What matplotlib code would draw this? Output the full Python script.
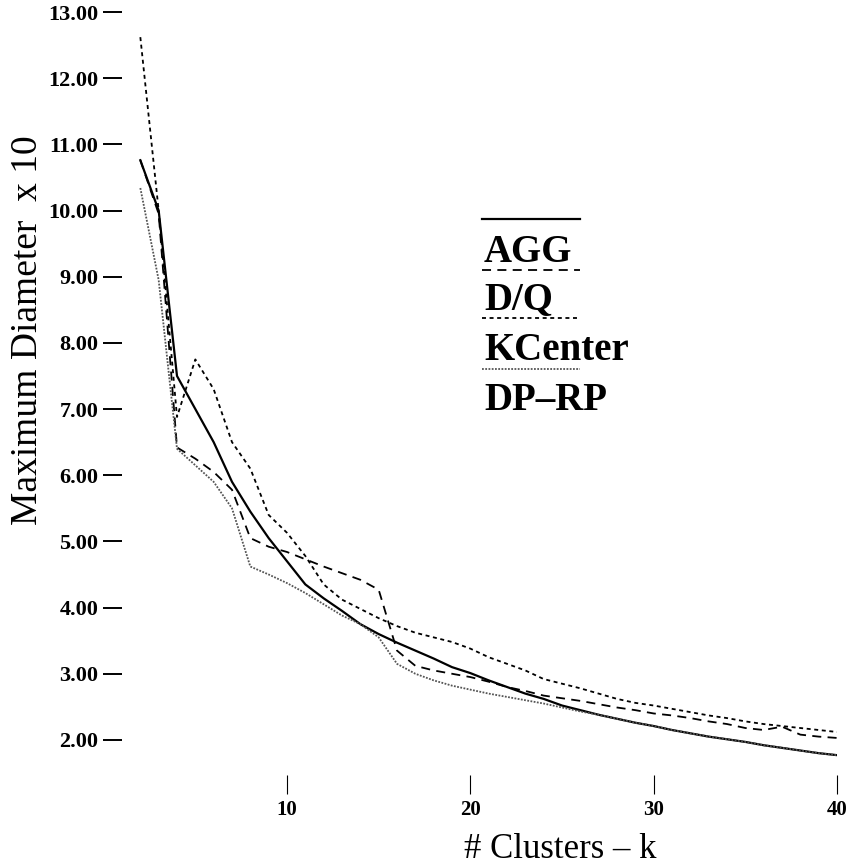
import matplotlib
matplotlib.use("Agg")
import matplotlib.pyplot as plt
from matplotlib.lines import Line2D

# Number of clusters k
k = list(range(2, 41))

# Maximum diameter x 10 for each method
agg = [10.76, 10.00, 7.50, 7.00, 6.50, 5.90, 5.45, 5.05, 4.70, 4.35,
       4.14, 3.95, 3.75, 3.60, 3.47, 3.35, 3.23, 3.10, 3.01, 2.90,
       2.80, 2.70, 2.62, 2.52, 2.45, 2.38, 2.32, 2.26, 2.21, 2.15,
       2.10, 2.05, 2.01, 1.97, 1.92, 1.88, 1.84, 1.80, 1.77]
dq = [10.76, 9.95, 6.42, 6.25, 6.05, 5.78, 5.05, 4.92, 4.84, 4.73,
      4.62, 4.52, 4.42, 4.27, 3.35, 3.12, 3.05, 3.00, 2.95, 2.88,
      2.80, 2.74, 2.67, 2.63, 2.59, 2.54, 2.49, 2.45, 2.40, 2.37,
      2.33, 2.28, 2.24, 2.18, 2.15, 2.20, 2.08, 2.05, 2.03]
kcenter = [12.62, 10.00, 6.88, 7.75, 7.30, 6.50, 6.10, 5.40, 5.13, 4.78,
           4.35, 4.12, 3.98, 3.84, 3.72, 3.62, 3.55, 3.48, 3.38, 3.25,
           3.15, 3.05, 2.92, 2.85, 2.78, 2.70, 2.62, 2.56, 2.52, 2.47,
           2.42, 2.37, 2.33, 2.28, 2.24, 2.21, 2.18, 2.15, 2.12]
dprp = [10.34, 8.95, 6.40, 6.15, 5.90, 5.50, 4.62, 4.50, 4.37, 4.22,
        4.05, 3.88, 3.75, 3.55, 3.15, 3.00, 2.90, 2.82, 2.76, 2.70,
        2.65, 2.60, 2.55, 2.49, 2.43, 2.38, 2.32, 2.26, 2.21, 2.15,
        2.10, 2.05, 2.01, 1.97, 1.92, 1.88, 1.84, 1.80, 1.77]

labels = ["AGG", "D/Q", "KCenter", "DP\u2013RP"]
x_ticks = [10, 20, 30, 40]
y_ticks = [2, 3, 4, 5, 6, 7, 8, 9, 10, 11, 12, 13]

serif = ["Liberation Serif", "DejaVu Serif"]
plt.rcParams["font.family"] = serif

fig = plt.figure(figsize=(8.54, 8.65), dpi=100)
ax = fig.add_axes([122 / 854, 1 - 775 / 865, 715 / 854, 763 / 865])

styles = [
    dict(color="black", lw=1.6, ls="-"),
    dict(color="black", lw=1.3, ls=(0, (5, 3.5))),
    dict(color="black", lw=1.3, ls=(0, (2.2, 2))),
    dict(color="#555555", lw=1.3, ls=(0, (1, 0.8))),
]

for series, st in zip([agg, dq, kcenter, dprp], styles):
    ax.plot(k, series, **st)

ax.set_xlim(1, 40)
ax.set_ylim(1.47, 13)

for s in ax.spines.values():
    s.set_visible(False)

ax.set_xticks(x_ticks)
ax.set_xticklabels([str(t) for t in x_ticks], fontsize=15, fontweight="bold")
ax.set_yticks(y_ticks)
ax.set_yticklabels(["%.2f" % t for t in y_ticks], fontsize=16, fontweight="bold")
ax.tick_params(axis="y", direction="out", length=14, width=1.4, pad=3)
ax.tick_params(axis="x", direction="out", length=14, width=0.8, pad=4)

# axis titles
fig.text(28 / 854, 1 - 330 / 865, "Maximum Diameter  x 10", fontsize=27,
         rotation=90, ha="center", va="center")
fig.text(560 / 854, 1 - 858 / 865, "# Clusters \u2013 k", fontsize=25,
         ha="center", va="baseline")

# legend: sample line above each label
line_y = [219, 270, 318, 369]
text_y = [252, 300, 350, 400]
for st, ly, ty, lab in zip(styles, line_y, text_y, labels):
    fig.add_artist(Line2D([482 / 854, 580 / 854], [1 - ly / 865, 1 - ly / 865],
                          transform=fig.transFigure, **st))
    fig.text(484 / 854, 1 - ty / 865, lab, fontsize=28, fontweight="bold",
             ha="left", va="center")

fig.savefig("out.png", dpi=100)
